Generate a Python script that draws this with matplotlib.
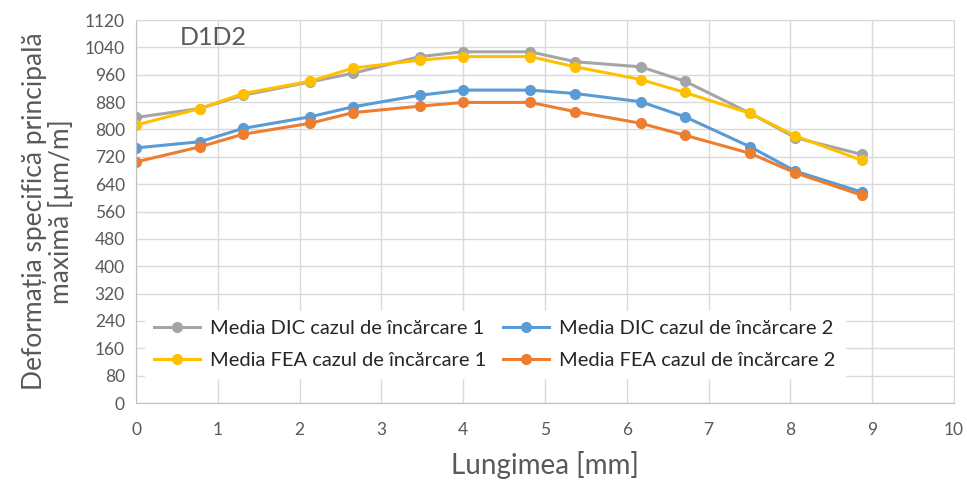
import matplotlib.pyplot as plt

plt.rcParams['font.family'] = ['Lato', 'DejaVu Sans']

# lengths along the specimen [mm]
x_mm = [0, 0.78, 1.31, 2.13, 2.65, 3.47, 4.0, 4.82, 5.37, 6.17, 6.71, 7.51, 8.06, 8.87]

dic_1 = [835, 861, 900, 939, 964, 1013, 1027, 1027, 998, 983, 941, 847, 776, 727]
fea_1 = [813, 861, 905, 941, 979, 1003, 1013, 1013, 983, 946, 908, 847, 781, 710]
dic_2 = [746, 764, 803, 837, 866, 900, 915, 915, 905, 881, 837, 749, 678, 617]
fea_2 = [705, 749, 786, 818, 849, 868, 879, 879, 852, 818, 783, 730, 673, 608]

labels = ['Media DIC cazul de încărcare 1', 'Media FEA cazul de încărcare 1',
          'Media DIC cazul de încărcare 2', 'Media FEA cazul de încărcare 2']
colors = ['#a5a5a5', '#ffc000', '#5b9bd5', '#ed7d31']

fig = plt.figure(figsize=(9.67, 4.82), dpi=100)
ax = fig.add_axes([136 / 967, 79 / 482, 818 / 967, 383 / 482])

for ys, lab, c in zip([dic_1, fea_1, dic_2, fea_2], labels, colors):
    ax.plot(x_mm, ys, '-o', color=c, lw=2.2, ms=7, label=lab, solid_joinstyle='round')

ax.set_xlim(0, 10)
ax.set_ylim(0, 1120)
ax.set_xticks(range(0, 11))
ax.set_yticks(range(0, 1121, 80))
ax.grid(True, color='#d9d9d9', lw=1)
ax.set_axisbelow(True)
ax.tick_params(length=0, labelsize=12.5, colors='#595959')
ax.tick_params(axis='x', pad=14)
ax.tick_params(axis='y', pad=8)
for s in ax.spines.values():
    s.set_color('#d9d9d9')
ax.spines['bottom'].set_color('#bfbfbf')
ax.spines['left'].set_color('#bfbfbf')

ax.set_xlabel('Lungimea [mm]', fontsize=20, color='#595959', labelpad=9)
ax.set_ylabel('Deformația specifică principală\nmaximă [µm/m]', fontsize=19,
              color='#595959', labelpad=8, linespacing=1.05)

ax.text(0.053, 0.955, 'D1D2', transform=ax.transAxes, fontsize=18,
        color='#595959', va='center')

leg = ax.legend(loc='lower left', bbox_to_anchor=(0.011, 0.065),
                ncol=2, fontsize=14.5, frameon=True, fancybox=False,
                borderaxespad=0, handlelength=2.3, handletextpad=0.5,
                columnspacing=0.8, labelspacing=0.75, borderpad=0.45)
leg.get_frame().set_facecolor('white')
leg.get_frame().set_edgecolor('white')
leg.get_frame().set_alpha(1)
for t in leg.get_texts():
    t.set_color('#262626')

fig.savefig('out.png', dpi=100)
